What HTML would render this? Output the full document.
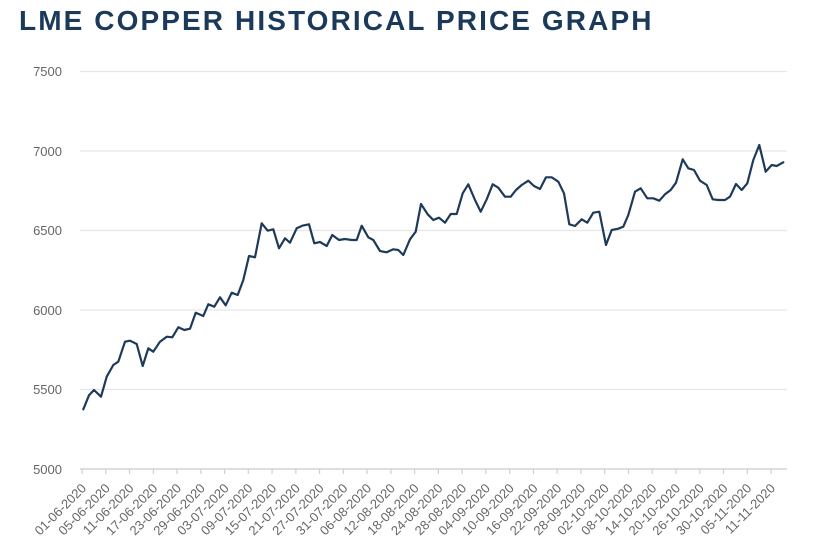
<!DOCTYPE html>
<html>
<head>
<meta charset="utf-8">
<style>
html,body{margin:0;padding:0;background:#fff;}
body{width:820px;height:554px;overflow:hidden;position:relative;}
.title{position:absolute;left:19px;top:4px;font-family:"Liberation Sans",Arial,sans-serif;font-weight:bold;font-size:28px;letter-spacing:2.1px;color:#1b3a5a;white-space:nowrap;line-height:34px;}
svg{position:absolute;left:0;top:0;}
</style>
</head>
<body>
<div class="title">LME COPPER HISTORICAL PRICE GRAPH</div>
<svg width="820" height="554" viewBox="0 0 820 554" xmlns="http://www.w3.org/2000/svg">
<g stroke="#e6e6e6" stroke-width="1.2">
<line x1="80" y1="71.5" x2="787" y2="71.5"/>
<line x1="80" y1="151" x2="787" y2="151"/>
<line x1="80" y1="230.5" x2="787" y2="230.5"/>
<line x1="80" y1="310" x2="787" y2="310"/>
<line x1="80" y1="389.5" x2="787" y2="389.5"/>
</g>
<line x1="80" y1="469" x2="787" y2="469" stroke="#d4d4d4" stroke-width="1.4"/>
<g font-family="Liberation Sans, Arial, sans-serif" font-size="13" fill="#666" text-anchor="end">
<text x="62" y="76">7500</text>
<text x="62" y="156">7000</text>
<text x="62" y="235">6500</text>
<text x="62" y="315">6000</text>
<text x="62" y="394">5500</text>
<text x="62" y="474">5000</text>
</g>
<polyline fill="none" stroke="#1e3a5a" stroke-width="2.2" stroke-linejoin="round" stroke-linecap="round" points="83.3,409.3 89,395.3 94,390 101,396.7 106.7,376.7 113.3,365 118.3,361.7 125,341.7 130,340.7 136.7,344 142.7,366 148.3,348.3 153.3,351.7 160,341.7 166.7,336.7 172.3,337.3 178.3,327.3 184.3,330 190,328.7 195.7,312.7 203.3,316 208.3,304.3 214.3,306.7 220,297.3 225.7,305.3 231.7,292.7 237.7,295 243.3,280 249,256 255,257.3 261.7,223.3 267.7,230.7 273.3,229.3 279,248.3 285,238.3 290,242.7 296.7,228.3 302.3,225.7 309,224.3 314.3,243.3 320,242 326.7,246 332.3,235 339,240 345,239 351.7,240 356.7,240 361.7,225.7 368.3,237.3 373.3,240 380,251 386.7,252.3 393.3,249.3 398.3,250 403.3,255 410,239.3 415.7,231.7 421,204 427.7,214.3 433.3,220 439,217.7 445,222.7 450.7,214 456.7,214 462.7,193.3 468.3,184.3 475,200 480.7,211.7 486.7,199.3 492.7,184.3 498.3,187.7 505,196.7 510.7,196.7 516,190 521.7,185 528.3,180.7 534,186 540,189 546,177.3 551.7,177.3 558.3,181.7 564,193.3 569.3,224.3 575,226 581.7,219.3 587.3,222.7 593.3,212.7 599.3,211.7 606,245 611.7,230 618.3,228.7 623.3,226.7 628.3,215 635,191.7 640.7,188.3 647.3,198.3 653.3,198.3 659.3,200.7 665,194.3 670.7,190 676,182.7 682.7,159.3 688.3,168.3 694,170 700,180.7 706.7,185 712.7,199.3 718.3,200 725,200 730,196.7 736,184 741.7,190 747.3,183.3 753.3,160 759.3,145 765.7,171.7 771.7,165 776.7,166 783.3,162.3"/>
<g stroke="#d0d0d0" stroke-width="1.2">
<line x1="82" y1="469" x2="82" y2="474"/><line x1="105.76" y1="469" x2="105.76" y2="474"/><line x1="129.52" y1="469" x2="129.52" y2="474"/><line x1="153.28" y1="469" x2="153.28" y2="474"/><line x1="177.04" y1="469" x2="177.04" y2="474"/><line x1="200.8" y1="469" x2="200.8" y2="474"/><line x1="224.56" y1="469" x2="224.56" y2="474"/><line x1="248.32" y1="469" x2="248.32" y2="474"/><line x1="272.08" y1="469" x2="272.08" y2="474"/><line x1="295.84" y1="469" x2="295.84" y2="474"/><line x1="319.6" y1="469" x2="319.6" y2="474"/><line x1="343.36" y1="469" x2="343.36" y2="474"/><line x1="367.12" y1="469" x2="367.12" y2="474"/><line x1="390.88" y1="469" x2="390.88" y2="474"/><line x1="414.64" y1="469" x2="414.64" y2="474"/><line x1="438.4" y1="469" x2="438.4" y2="474"/><line x1="462.16" y1="469" x2="462.16" y2="474"/><line x1="485.92" y1="469" x2="485.92" y2="474"/><line x1="509.68" y1="469" x2="509.68" y2="474"/><line x1="533.44" y1="469" x2="533.44" y2="474"/><line x1="557.2" y1="469" x2="557.2" y2="474"/><line x1="580.96" y1="469" x2="580.96" y2="474"/><line x1="604.72" y1="469" x2="604.72" y2="474"/><line x1="628.48" y1="469" x2="628.48" y2="474"/><line x1="652.24" y1="469" x2="652.24" y2="474"/><line x1="676" y1="469" x2="676" y2="474"/><line x1="699.76" y1="469" x2="699.76" y2="474"/><line x1="723.52" y1="469" x2="723.52" y2="474"/><line x1="747.28" y1="469" x2="747.28" y2="474"/><line x1="771.04" y1="469" x2="771.04" y2="474"/>
</g>
<g font-family="Liberation Sans, Arial, sans-serif" font-size="13" fill="#666" text-anchor="end">
<text transform="translate(87,489) rotate(-45)">01-06-2020</text>
<text transform="translate(110.76,489) rotate(-45)">05-06-2020</text>
<text transform="translate(134.52,489) rotate(-45)">11-06-2020</text>
<text transform="translate(158.28,489) rotate(-45)">17-06-2020</text>
<text transform="translate(182.04,489) rotate(-45)">23-06-2020</text>
<text transform="translate(205.8,489) rotate(-45)">29-06-2020</text>
<text transform="translate(229.56,489) rotate(-45)">03-07-2020</text>
<text transform="translate(253.32,489) rotate(-45)">09-07-2020</text>
<text transform="translate(277.08,489) rotate(-45)">15-07-2020</text>
<text transform="translate(300.84,489) rotate(-45)">21-07-2020</text>
<text transform="translate(324.6,489) rotate(-45)">27-07-2020</text>
<text transform="translate(348.36,489) rotate(-45)">31-07-2020</text>
<text transform="translate(372.12,489) rotate(-45)">06-08-2020</text>
<text transform="translate(395.88,489) rotate(-45)">12-08-2020</text>
<text transform="translate(419.64,489) rotate(-45)">18-08-2020</text>
<text transform="translate(443.4,489) rotate(-45)">24-08-2020</text>
<text transform="translate(467.16,489) rotate(-45)">28-08-2020</text>
<text transform="translate(490.92,489) rotate(-45)">04-09-2020</text>
<text transform="translate(514.68,489) rotate(-45)">10-09-2020</text>
<text transform="translate(538.44,489) rotate(-45)">16-09-2020</text>
<text transform="translate(562.2,489) rotate(-45)">22-09-2020</text>
<text transform="translate(585.96,489) rotate(-45)">28-09-2020</text>
<text transform="translate(609.72,489) rotate(-45)">02-10-2020</text>
<text transform="translate(633.48,489) rotate(-45)">08-10-2020</text>
<text transform="translate(657.24,489) rotate(-45)">14-10-2020</text>
<text transform="translate(681,489) rotate(-45)">20-10-2020</text>
<text transform="translate(704.76,489) rotate(-45)">26-10-2020</text>
<text transform="translate(728.52,489) rotate(-45)">30-10-2020</text>
<text transform="translate(752.28,489) rotate(-45)">05-11-2020</text>
<text transform="translate(776.04,489) rotate(-45)">11-11-2020</text>
</g>
</svg>
</body>
</html>
